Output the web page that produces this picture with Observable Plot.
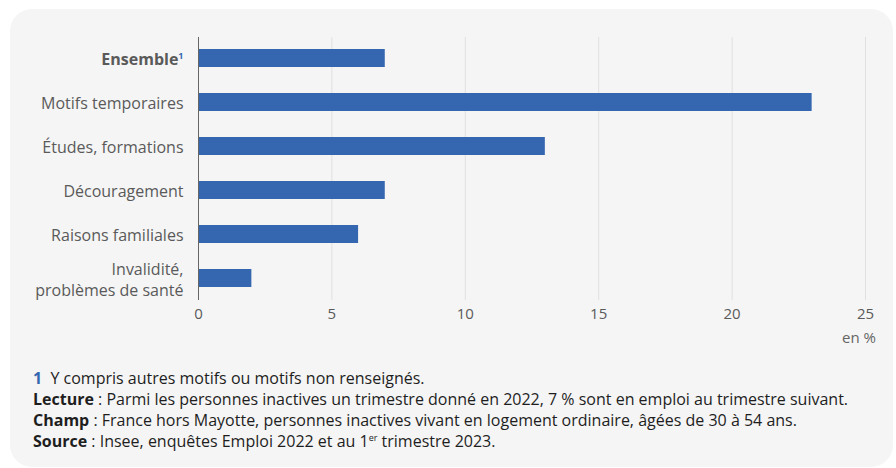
<!DOCTYPE html>
<html><head><meta charset="utf-8">
<script src="https://cdn.jsdelivr.net/npm/d3@7"></script>
<script src="https://cdn.jsdelivr.net/npm/@observablehq/plot@0.6"></script>
<style>
body{margin:0;background:#fff;font-family:"Open Sans",sans-serif;}
#panel{position:absolute;left:10px;top:9px;width:883px;height:458px;background:#f5f5f5;border-radius:22px;}
#chart{position:absolute;left:0;top:0;}
#unit{position:absolute;right:17px;top:318px;font-size:15px;line-height:20px;color:#666;}
#notes{position:absolute;left:23px;top:359px;font-size:16px;line-height:21px;color:#1e1e1e;white-space:nowrap;}
#notes b.n{color:#3567b0;}
#notes sup{font-size:9px;vertical-align:6px;line-height:0;}
</style></head><body>
<div id="panel"><div id="chart"></div><div id="unit">en %</div>
<div id="notes">
<div><b class="n">1</b>&nbsp; Y compris autres motifs ou motifs non renseignés.</div>
<div><b>Lecture</b> : Parmi les personnes inactives un trimestre donné en 2022, 7 % sont en emploi au trimestre suivant.</div>
<div><b>Champ</b> : France hors Mayotte, personnes inactives vivant en logement ordinaire, âgées de 30 à 54 ans.</div>
<div><b>Source</b> : Insee, enquêtes Emploi 2022 et au 1<sup>er</sup> trimestre 2023.</div>
</div>
</div>
<script>
const categories = ["Ensemble", "Motifs temporaires", "Études, formations", "Découragement", "Raisons familiales", "Invalidité,\nproblèmes de santé"];
const values = [7, 23, 13, 7, 6, 2];
const xTicks = [0, 5, 10, 15, 20, 25];
const barColor = "#3567b0";

const data = categories.map((c, i) => ({category: c, value: values[i]}));

const chart = Plot.plot({
  width: 883,
  height: 345,
  marginLeft: 188,
  marginRight: 28,
  marginTop: 28,
  marginBottom: 54,
  style: {fontFamily: "'Open Sans', sans-serif", color: "#5a5a5a", background: "transparent"},
  x: {domain: [0, 25], ticks: xTicks},
  y: {domain: categories, paddingInner: 0.59, paddingOuter: 0.28},
  marks: [
    Plot.ruleX(xTicks.slice(1), {stroke: "#e0e0e0", strokeWidth: 1}),
    Plot.barX(data, {x: "value", y: "category", fill: barColor}),
    Plot.ruleX([0], {stroke: "#666", strokeWidth: 1}),
    Plot.axisX({ticks: xTicks, tickSize: 0, tickPadding: 8, fontSize: 15, label: null}),
    Plot.axisY({tickSize: 0, tickPadding: 15, fontSize: 16, lineHeight: 1.3, label: null})
  ]
});
document.getElementById("chart").appendChild(chart);

// Bold "Ensemble" with a blue superscript footnote mark
chart.querySelectorAll("text").forEach(t => {
  if (t.textContent === "Ensemble") {
    t.setAttribute("font-weight", "bold");
    const sup = document.createElementNS("http://www.w3.org/2000/svg", "tspan");
    sup.setAttribute("font-size", "9");
    sup.setAttribute("fill", barColor);
    sup.setAttribute("dy", "-6");
    sup.textContent = "1";
    t.appendChild(sup);
  }
});
</script>
</body></html>
